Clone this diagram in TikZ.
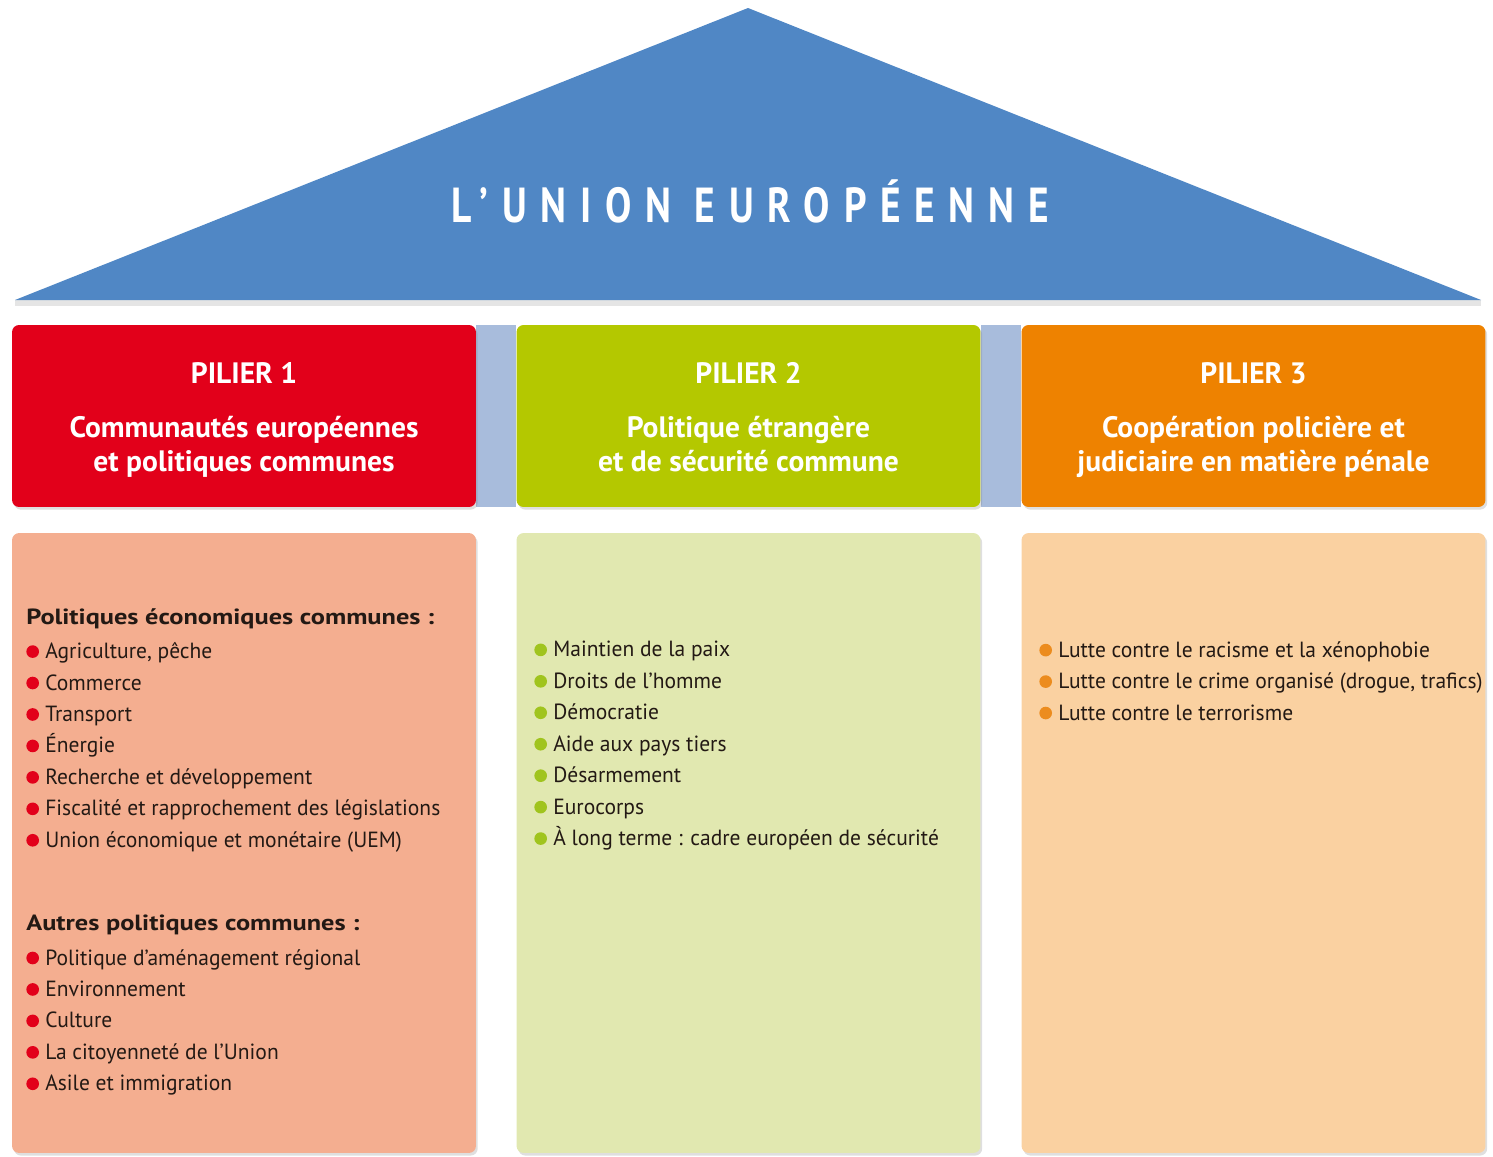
\documentclass[tikz,border=0pt]{standalone}
\usepackage{fontspec}
\setmainfont{PT Sans}[FakeStretch=0.98]
\newfontfamily\entetefont{PT Sans}
\newfontfamily\rubriquefont{PT Sans}[FakeStretch=1.2]
\newfontfamily\titrefont{PT Sans}[FakeStretch=0.8,LetterSpace=28]
\usetikzlibrary{shadows,backgrounds}

\definecolor{toit}{RGB}{80,135,197}
\definecolor{pont}{RGB}{168,188,220}
\definecolor{rougepil}{RGB}{226,0,26}
\definecolor{vertpil}{RGB}{180,200,0}
\definecolor{orangepil}{RGB}{238,130,0}
\definecolor{saumon}{RGB}{244,174,144}
\definecolor{vertpale}{RGB}{225,232,176}
\definecolor{peche}{RGB}{250,209,161}
\definecolor{puceverte}{RGB}{160,196,30}
\definecolor{puceorange}{RGB}{236,140,30}
\definecolor{encre}{RGB}{35,25,20}

\newcommand{\puce}[1]{\tikz[baseline=-4pt]\fill[#1] (0,0) circle (3.6pt);\hspace{3.6pt}}
\newcommand{\rubrique}[1]{{\rubriquefont\bfseries #1}}

\begin{document}
\begin{tikzpicture}[x=0.02cm, y=-0.02cm,
    pilier/.style={rectangle, rounded corners=4pt, minimum width=9.28cm, minimum height=3.64cm,
      drop shadow={shadow xshift=1pt, shadow yshift=-1.5pt, opacity=0.25}},
    entete/.style={text=white, align=center, inner sep=0pt, yshift=-0.1cm,
      font=\entetefont\bfseries\fontsize{16.8}{19.3}\selectfont},
    corps/.style={rectangle, rounded corners=4pt, minimum width=9.28cm, minimum height=12.4cm,
      drop shadow={shadow xshift=1pt, shadow yshift=-1.5pt, opacity=0.25}},
    liste/.style={anchor=north west, inner sep=0pt, align=left, text=encre,
      font=\fontsize{12.5}{17.9}\selectfont}]
  \useasboundingbox (0,0) rectangle (1493,1156);

  % le toit
  \fill[black!10] (15,300) -- (1481,300) -- (1481,306) -- (15,306) -- cycle;
  \fill[toit] (748,8) -- (1481,300) -- (15,300) -- cycle;
  \node[anchor=base, text=white, font=\titrefont\bfseries\fontsize{28}{30}\selectfont] (titre) at (750,222) {L’UNION EUROPÉENNE};

  % les piliers
  \node[pilier, fill=rougepil] (p1) at (244,416) {};
  \node[pilier, fill=vertpil] (p2) at (748.5,416) {};
  \node[pilier, fill=orangepil] (p3) at (1253.5,416) {};
  \begin{scope}[on background layer]
    \fill[pont] (p1.north east) rectangle (p2.south west);
    \fill[pont] (p2.north east) rectangle (p3.south west);
  \end{scope}
  \node[entete] (t1) at (p1) {\strut PILIER 1\\[11.3pt]Communautés européennes\\et politiques communes\strut};
  \node[entete] (t2) at (p2) {\strut PILIER 2\\[11.3pt]Politique étrangère\\et de sécurité commune\strut};
  \node[entete] (t3) at (p3) {\strut PILIER 3\\[11.3pt]Coopération policière et\\judiciaire en matière pénale\strut};

  \node[corps, fill=saumon] (c1) at (244,843) {};
  \node[corps, fill=vertpale] (c2) at (748.5,843) {};
  \node[corps, fill=peche] (c3) at (1253.5,843) {};

  \node[liste] (l1) at (26,608) {\rubrique{Politiques économiques communes :}\\[1.7pt]
    \puce{rougepil}Agriculture, pêche\\
    \puce{rougepil}Commerce\\
    \puce{rougepil}Transport\\
    \puce{rougepil}Énergie\\
    \puce{rougepil}Recherche et développement\\
    \puce{rougepil}Fiscalité et rapprochement des législations\\
    \puce{rougepil}Union économique et monétaire (UEM)\\[29.5pt]
    \rubrique{Autres politiques communes :}\\[1.7pt]
    \puce{rougepil}Politique d’aménagement régional\\
    \puce{rougepil}Environnement\\
    \puce{rougepil}Culture\\
    \puce{rougepil}La citoyenneté de l’Union\\
    \puce{rougepil}Asile et immigration};
  \node[liste] (l2) at (534,641) {\puce{puceverte}Maintien de la paix\\
    \puce{puceverte}Droits de l’homme\\
    \puce{puceverte}Démocratie\\
    \puce{puceverte}Aide aux pays tiers\\
    \puce{puceverte}Désarmement\\
    \puce{puceverte}Eurocorps\\
    \puce{puceverte}À long terme : cadre européen de sécurité};
  \node[liste] (l3) at (1039,641) {\puce{puceorange}Lutte contre le racisme et la xénophobie\\
    \puce{puceorange}Lutte contre le crime organisé (drogue, trafics)\\
    \puce{puceorange}Lutte contre le terrorisme};
\end{tikzpicture}
\end{document}
